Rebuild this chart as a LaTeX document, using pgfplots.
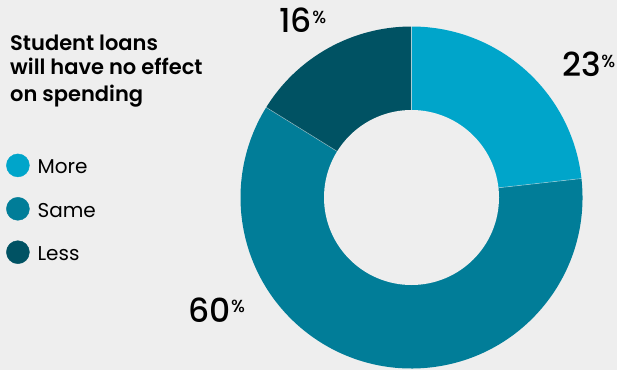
\documentclass[border=0pt]{standalone}
\usepackage{fontspec}
\setmainfont{Poppins}
\newfontfamily\semibold{Poppins SemiBold}
\newfontfamily\medium{Poppins Medium}
\usepackage{pgfplots}
\pgfplotsset{compat=1.18}
\usepackage{pgfplotstable}

\definecolor{bg}{HTML}{EEEEEE}
\definecolor{cMore}{HTML}{00A5CA}
\definecolor{cSame}{HTML}{017D98}
\definecolor{cLess}{HTML}{005263}

\pgfplotstableread{
label value
More 23
Same 60
Less 16
}\donutdata

\pgfplotstablegetelem{0}{value}\of\donutdata \pgfmathsetmacro\vA{\pgfplotsretval}
\pgfplotstablegetelem{1}{value}\of\donutdata \pgfmathsetmacro\vB{\pgfplotsretval}
\pgfplotstablegetelem{2}{value}\of\donutdata \pgfmathsetmacro\vC{\pgfplotsretval}
\pgfmathsetmacro\tot{\vA+\vB+\vC}
\pgfmathsetmacro\aA{90}
\pgfmathsetmacro\aB{\aA-360*(\vA/\tot)}
\pgfmathsetmacro\aC{\aB-360*(\vB/\tot)}
\pgfmathsetmacro\aD{\aC-360*(\vC/\tot)}

\newcommand\pct[1]{#1\hspace{0.5pt}\raisebox{9.5pt}{\fontsize{17.5}{17.5}\selectfont\%}}

\begin{document}
\begin{tikzpicture}
\begin{axis}[
  name=ax,
  hide axis, scale only axis,
  width=617pt, height=370pt,
  xmin=0, xmax=617, ymin=0, ymax=370,
  clip=false,
  legend style={at={(axis cs:6,216.5)}, anchor=north west, draw=none, fill=none,
    inner sep=0pt, row sep=20pt, column sep=8pt,
    nodes={inner sep=0pt},
    font=\fontsize{20}{20}\selectfont},
  legend cell align=left,
]
\fill[bg] (axis cs:0,0) rectangle (axis cs:617,370);
\addlegendimage{legend image code/.code={\fill[cMore] (11.5pt,2pt) circle[radius=11.5pt];}}
\addlegendentry{More}
\addlegendimage{legend image code/.code={\fill[cSame] (11.5pt,2pt) circle[radius=11.5pt];}}
\addlegendentry{Same}
\addlegendimage{legend image code/.code={\fill[cLess] (11.5pt,2pt) circle[radius=11.5pt];}}
\addlegendentry{Less}

\fill[cMore] (axis cs:411.5,172.5) -- ++(\aA:171pt) arc[start angle=\aA, end angle=\aB, radius=171pt] -- cycle;
\fill[cSame] (axis cs:411.5,172.5) -- ++(\aB:171pt) arc[start angle=\aB, end angle=\aC, radius=171pt] -- cycle;
\fill[cLess] (axis cs:411.5,172.5) -- ++(\aC:171pt) arc[start angle=\aC, end angle=\aD, radius=171pt] -- cycle;
\draw[white, opacity=0.45, line width=0.6pt] (axis cs:411.5,172.5) -- ++(\aA:171pt);
\draw[white, opacity=0.45, line width=0.6pt] (axis cs:411.5,172.5) -- ++(\aB:171pt);
\draw[white, opacity=0.45, line width=0.6pt] (axis cs:411.5,172.5) -- ++(\aC:171pt);
\fill[bg] (axis cs:411.5,172.5) circle[radius=87.5pt];

\node[anchor=base west, inner sep=0pt, font=\semibold\fontsize{21}{21}\selectfont] at (axis cs:10,319.3) {Student loans};
\node[anchor=base west, inner sep=0pt, font=\semibold\fontsize{21}{21}\selectfont] at (axis cs:10,295) {will have no effect};
\node[anchor=base west, inner sep=0pt, font=\semibold\fontsize{21}{21}\selectfont] at (axis cs:10,268.5) {on spending};

\node[anchor=base west, inner sep=0pt, font=\medium\fontsize{33}{33}\selectfont] at (axis cs:279,337) {\pct{16}};
\node[anchor=base west, inner sep=0pt, font=\medium\fontsize{33}{33}\selectfont] at (axis cs:562,293) {\pct{23}};
\node[anchor=base west, inner sep=0pt, font=\medium\fontsize{33}{33}\selectfont] at (axis cs:188,48) {\pct{60}};
\end{axis}
\pgfresetboundingbox
\useasboundingbox (ax.south west) rectangle (ax.north east);
\end{tikzpicture}
\end{document}
